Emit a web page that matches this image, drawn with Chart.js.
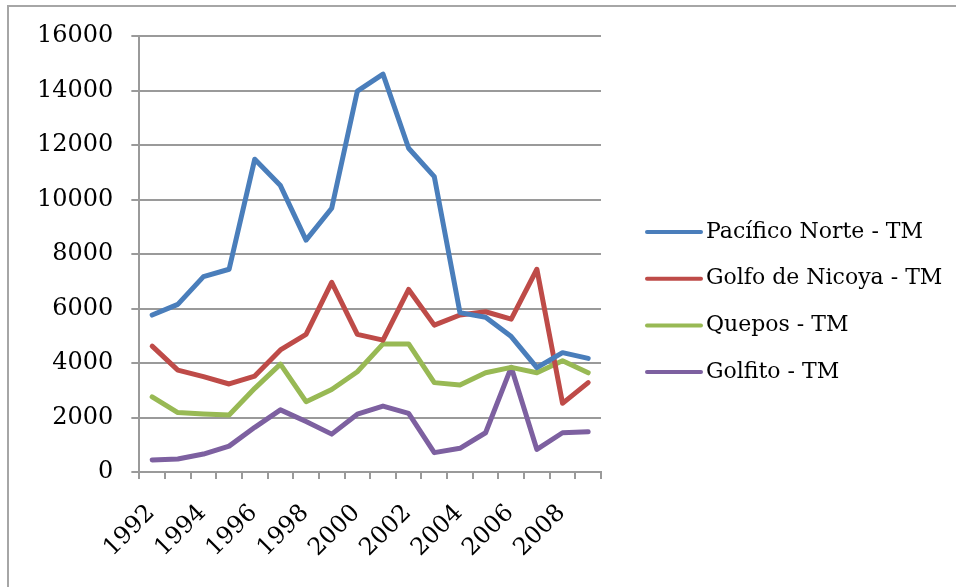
<!DOCTYPE html>
<html>
<head>
<meta charset="utf-8">
<script src="https://cdn.jsdelivr.net/npm/chart.js@4"></script>
<style>
  html, body { margin: 0; padding: 0; background: #fff; overflow: hidden; }
  #wrap { position: relative; width: 956px; height: 587px; }
  #frame { position: absolute; left: 7px; top: 5px; width: 2000px; height: 2000px;
           border-top: 2px solid #a6a6a6; border-left: 2px solid #a6a6a6; pointer-events: none; }
</style>
</head>
<body>
<div id="wrap">
  <canvas id="c" width="956" height="587"></canvas>
  <div id="frame"></div>
</div>
<script>
const years = ['1992','1993','1994','1995','1996','1997','1998','1999','2000','2001','2002','2003','2004','2005','2006','2007','2008','2009'];
const tickYears = ['1992','1994','1996','1998','2000','2002','2004','2006','2008'];
const seriesNames = ['Pacífico Norte - TM', 'Golfo de Nicoya - TM', 'Quepos - TM', 'Golfito - TM'];
const pacificoNorte = [5760, 6150, 7170, 7440, 11480, 10510, 8510, 9680, 13980, 14600, 11880, 10840, 5850, 5680, 4970, 3830, 4380, 4170];
const golfoNicoya   = [4620, 3740, 3500, 3230, 3520, 4480, 5050, 6960, 5050, 4840, 6700, 5390, 5760, 5880, 5610, 7440, 2520, 3280];
const quepos        = [2760, 2180, 2130, 2090, 3070, 3960, 2580, 3030, 3680, 4700, 4700, 3280, 3190, 3640, 3840, 3640, 4080, 3640];
const golfito       = [440, 480, 660, 950, 1640, 2280, 1850, 1390, 2120, 2420, 2150, 710, 870, 1440, 3840, 830, 1440, 1480];
const yTicks = [0, 2000, 4000, 6000, 8000, 10000, 12000, 14000, 16000];

const colors = ['#4A7EBB', '#BE4B48', '#98B954', '#7D60A0'];
const values = [pacificoNorte, golfoNicoya, quepos, golfito];
const FONT = 'DejaVu Serif';
const gridColor = '#9a9a9a';

const datasets = values.map((v, i) => ({
  label: seriesNames[i],
  data: v,
  borderColor: colors[i],
  backgroundColor: colors[i],
  borderWidth: 5,
  pointRadius: 0,
  pointHoverRadius: 0,
  tension: 0,
  borderJoinStyle: 'round',
  borderCapStyle: 'round',
  fill: false
}));

// Legend drawn to the right of the plot, from the datasets' labels and colours
const sideLegend = {
  id: 'sideLegend',
  afterDraw(chart) {
    const ctx = chart.ctx;
    const x0 = chart.chartArea.right + 46;
    const lineLen = 54;
    const yStart = 232, step = 46.7;
    ctx.save();
    ctx.font = '22px "' + FONT + '"';
    ctx.textBaseline = 'middle';
    ctx.textAlign = 'left';
    chart.data.datasets.forEach((ds, i) => {
      const y = yStart + i * step;
      ctx.strokeStyle = ds.borderColor;
      ctx.lineWidth = 4;
      ctx.lineCap = 'round';
      ctx.beginPath();
      ctx.moveTo(x0, y);
      ctx.lineTo(x0 + lineLen, y);
      ctx.stroke();
      ctx.fillStyle = '#000';
      ctx.fillText(ds.label, x0 + lineLen + 5, y);
    });
    ctx.restore();
  }
};

new Chart(document.getElementById('c'), {
  type: 'line',
  data: { labels: years, datasets },
  plugins: [sideLegend],
  options: {
    responsive: false,
    animation: false,
    events: [],
    layout: { padding: { left: 19, top: 36, right: 355, bottom: 0 } },
    plugins: {
      tooltip: { enabled: false },
      title: { display: false },
      legend: { display: false }
    },
    scales: {
      x: {
        type: 'category',
        offset: true,
        afterFit(scale) { scale.height = 115; },
        grid: { display: true, drawOnChartArea: false, drawTicks: true, tickLength: 7, color: gridColor, lineWidth: 2, offset: true },
        border: { display: true, color: gridColor, width: 2 },
        ticks: {
          autoSkip: false,
          minRotation: 45,
          maxRotation: 45,
          padding: 20,
          labelOffset: -1,
          color: '#000',
          font: { family: FONT, size: 24 },
          callback(val, idx) {
            const lab = years[idx];
            return tickYears.includes(lab) ? lab : '';
          }
        }
      },
      y: {
        min: 0,
        max: 16000,
        afterBuildTicks(scale) { scale.ticks = yTicks.map(v => ({ value: v })); },
        grid: { color: gridColor, lineWidth: 2, drawTicks: true, tickLength: 8 },
        border: { display: true, color: gridColor, width: 2 },
        ticks: {
          padding: 18,
          color: '#000',
          font: { family: FONT, size: 24 },
          callback(v) { return String(v); }
        }
      }
    }
  }
});
</script>
</body>
</html>
